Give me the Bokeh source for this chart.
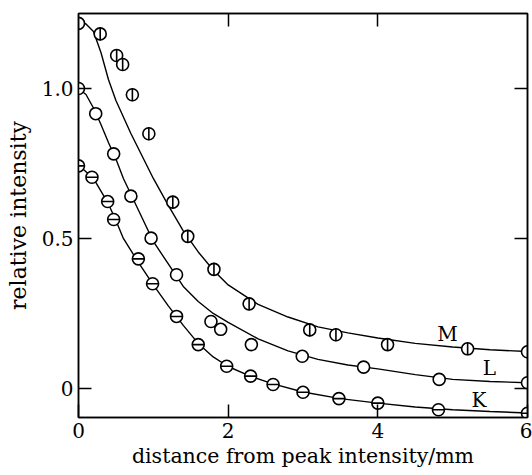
import math
from bokeh.plotting import figure
from bokeh.models import LinearAxis, FixedTicker, Range1d
from bokeh.core.properties import value
from bokeh.embed import file_html
from bokeh.resources import INLINE

# ---- data ----
# M series (circle with vertical bar)
m_x = [0.0, 0.29, 0.51, 0.59, 0.72, 0.94, 1.26, 1.46, 1.81, 2.28, 3.09, 3.44, 4.13, 5.20, 6.0]
m_y = [1.217, 1.182, 1.11, 1.08, 0.979, 0.849, 0.621, 0.507, 0.397, 0.282, 0.195, 0.179, 0.146, 0.132, 0.122]
# L series (open circle)
l_x = [0.0, 0.23, 0.47, 0.70, 0.97, 1.31, 1.77, 1.90, 2.31, 2.99, 3.81, 4.82, 6.0]
l_y = [1.0, 0.916, 0.782, 0.641, 0.501, 0.379, 0.223, 0.197, 0.146, 0.107, 0.071, 0.030, 0.019]
# K series (circle with horizontal bar)
k_x = [0.0, 0.18, 0.39, 0.47, 0.80, 0.99, 1.31, 1.60, 1.98, 2.30, 2.60, 3.00, 3.48, 4.00, 4.81, 6.0]
k_y = [0.742, 0.704, 0.623, 0.563, 0.432, 0.349, 0.240, 0.146, 0.074, 0.041, 0.013, -0.013, -0.034, -0.049, -0.071, -0.083]

# fitted curves
mc_x = [0, 0.1, 0.2, 0.3, 0.4, 0.5, 0.6, 0.7, 0.8, 1.0, 1.2, 1.4, 1.6, 1.8, 2.0, 2.4, 2.8, 3.2, 3.6, 4.0, 4.5, 5.0, 5.5, 6.0]
mc_y = [1.225, 1.215, 1.19, 1.12, 1.03, 0.96, 0.905, 0.85, 0.80, 0.70, 0.61, 0.525, 0.455, 0.395, 0.345, 0.28, 0.238, 0.205, 0.185, 0.168, 0.150, 0.138, 0.129, 0.123]
lc_x = [0, 0.1, 0.2, 0.3, 0.4, 0.5, 0.6, 0.8, 1.0, 1.2, 1.4, 1.6, 1.8, 2.0, 2.4, 2.8, 3.2, 3.6, 4.0, 4.5, 5.0, 5.5, 6.0]
lc_y = [1.0, 0.98, 0.935, 0.88, 0.82, 0.765, 0.70, 0.595, 0.49, 0.415, 0.34, 0.29, 0.25, 0.22, 0.165, 0.125, 0.097, 0.078, 0.065, 0.046, 0.030, 0.023, 0.019]
kc_x = [0, 0.2, 0.4, 0.5, 0.6, 0.8, 1.0, 1.2, 1.4, 1.6, 1.8, 2.0, 2.3, 2.6, 3.0, 3.5, 4.0, 4.5, 5.0, 5.5, 6.0]
kc_y = [0.745, 0.70, 0.615, 0.56, 0.50, 0.42, 0.345, 0.275, 0.21, 0.15, 0.105, 0.073, 0.04, 0.015, -0.012, -0.034, -0.049, -0.062, -0.071, -0.077, -0.082]

label_text = ["M", "L", "K"]
label_x = [4.93, 5.49, 5.35]
label_y = [0.18, 0.067, -0.037]

x_ticks = [0, 2, 4, 6]
x_tick_labels = ["0", "2", "4", "6"]
y_ticks = [0, 0.5, 1.0]
y_tick_labels = ["0", "0.5", "1.0"]

FONT = "DejaVu Serif"

p = figure(width=532, height=475, output_backend="svg", toolbar_location=None,
           x_range=Range1d(0, 6), y_range=Range1d(-0.097, 1.25),
           min_border_left=78, min_border_right=5, min_border_top=13, min_border_bottom=58,
           background_fill_color="white", border_fill_color="white")
p.grid.visible = False
p.outline_line_color = "black"
p.outline_line_width = 1.5

def style_axis(ax, ticks, labels, show_labels=True):
    ax.ticker = FixedTicker(ticks=ticks)
    ax.major_tick_in = 13
    ax.major_tick_out = 0
    ax.minor_tick_line_color = None
    ax.major_tick_line_width = 1.5
    ax.axis_line_width = 1.5
    ax.major_tick_line_color = "black"
    ax.axis_line_color = "black"
    if show_labels:
        ax.major_label_overrides = {t: s for t, s in zip(ticks, labels)}
        ax.major_label_text_font = FONT
        ax.major_label_text_font_size = "20px"
        ax.major_label_text_color = "black"
    else:
        ax.major_label_overrides = {t: "" for t in ticks}
        ax.major_label_text_font_size = "1px"
        ax.major_label_standoff = 0

style_axis(p.xaxis[0], x_ticks, x_tick_labels)
p.xaxis[0].major_label_standoff = 5
p.xaxis[0].axis_label = "distance from peak intensity/mm"
p.xaxis[0].axis_label_text_font = FONT
p.xaxis[0].axis_label_text_font_size = "20.5px"
p.xaxis[0].axis_label_text_font_style = "normal"
p.xaxis[0].axis_label_text_color = "black"
p.xaxis[0].axis_label_standoff = 3

style_axis(p.yaxis[0], y_ticks, y_tick_labels)
p.yaxis[0].major_label_standoff = 5
p.yaxis[0].axis_label = "relative intensity"
p.yaxis[0].axis_label_text_font = FONT
p.yaxis[0].axis_label_text_font_size = "22px"
p.yaxis[0].axis_label_text_font_style = "normal"
p.yaxis[0].axis_label_text_color = "black"
p.yaxis[0].axis_label_standoff = 8

top = LinearAxis()
style_axis(top, [2, 4], None, show_labels=False)
p.add_layout(top, "above")
right = LinearAxis()
style_axis(right, y_ticks, None, show_labels=False)
p.add_layout(right, "right")

# curves
for cx, cy in [(mc_x, mc_y), (lc_x, lc_y), (kc_x, kc_y)]:
    p.line(cx, cy, line_color="black", line_width=1.4)

# markers
MS = 12
p.scatter(m_x, m_y, marker="circle", size=MS, fill_color="white", line_color="black", line_width=1.6)
p.scatter(m_x, m_y, marker="dash", size=MS + 1, angle=math.pi / 2, line_color="black", line_width=1.6)
p.scatter(l_x, l_y, marker="circle", size=MS, fill_color="white", line_color="black", line_width=1.6)
p.scatter(k_x, k_y, marker="circle", size=MS, fill_color="white", line_color="black", line_width=1.6)
p.scatter(k_x, k_y, marker="dash", size=MS, line_color="black", line_width=1.6)

p.text(x=label_x, y=label_y, text=label_text, text_font=value(FONT), text_font_size="20px",
       text_align="center", text_baseline="middle", text_color="black")

open("out.html", "w").write(file_html(p, INLINE))
